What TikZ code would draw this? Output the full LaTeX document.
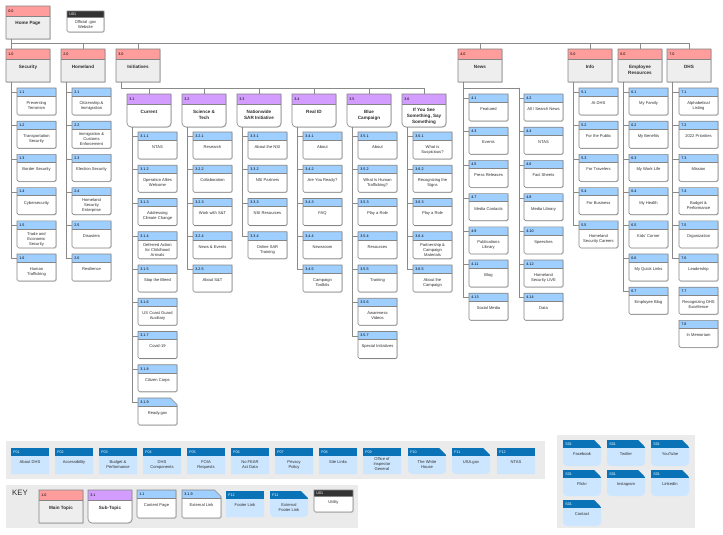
\documentclass[tikz,border=0pt]{standalone}
\usepackage{fontspec}
\setmainfont{Liberation Sans}
\usetikzlibrary{calc}
\definecolor{hred}{HTML}{FF9C9C}
\definecolor{hpurple}{HTML}{D29DFF}
\definecolor{hblue}{HTML}{9ECFFF}
\definecolor{fdark}{HTML}{0A72B6}
\definecolor{flight}{HTML}{CDE6FF}
\definecolor{mgray}{HTML}{EEEEEE}
\definecolor{bandgray}{HTML}{EBEBEB}
\definecolor{bord}{HTML}{858585}
\definecolor{conncol}{HTML}{8A8A8A}
\definecolor{udark}{HTML}{333333}
\definecolor{txt}{HTML}{2E2E2E}

\newcommand\ftitle{\fontsize{4.6}{5.6}\selectfont\bfseries}
\newcommand\fcont{\fontsize{4.1}{5}\selectfont}
\newcommand\flab{\fontsize{3.7}{4.2}\selectfont}

\pgfkeys{/bx/.cd,
 w/.store in=\bxw, h/.store in=\bxh, hh/.store in=\bxhh, r/.store in=\bxr, c/.store in=\bxc,
 hc/.store in=\bxhc, bc/.store in=\bxbc, lc/.store in=\bxlc, tf/.store in=\bxtf,
 ty/.store in=\bxty, sh/.store in=\bxsh, bd/.store in=\bxbd,
 main/.style={w=44,h=33,hh=10,r=0.01,c=0,hc=hred,bc=mgray,lc=black,tf=\ftitle,ty=16.3,sh=1,bd=1},
 sub/.style={w=44,h=33,hh=10,r=4,c=0,hc=hpurple,bc=white,lc=black,tf=\ftitle,ty=16.3,sh=1,bd=1},
 cont/.style={w=39,h=27,hh=8,r=1.5,c=0,hc=hblue,bc=white,lc=black,tf=\fcont,ty=13.3,sh=1,bd=1},
 ext/.style={cont,c=6.5},
 foot/.style={w=38,h=26,hh=8,r=0.01,c=0,hc=fdark,bc=flight,lc=white,tf=\fcont,ty=12.5,sh=0,bd=0},
 extfoot/.style={foot,r=4,c=7},
 util/.style={w=37,h=21,hh=6,r=1.5,c=0,hc=udark,bc=white,lc=white,tf=\fcont,ty=9.5,sh=1,bd=1}
}

\newcommand\bxoutline[1]{(#1.north west) -- ([xshift=-\bxc pt]#1.north east) -- ([yshift=-\bxc pt]#1.north east) -- ([yshift=\bxr pt]#1.south east) arc[start angle=0,end angle=-90,radius=\bxr pt] -- ([xshift=\bxr pt]#1.south west) arc[start angle=270,end angle=180,radius=\bxr pt] -- cycle}

\newcommand\mkbox[7][]{%
  \pgfkeys{/bx/.cd,#2,#1}%
  \node[rectangle, anchor=north west, minimum width=\bxw pt, minimum height=\bxh pt, inner sep=0, outer sep=0] (#3) at (#4,#5) {};%
  \ifnum\bxsh=1 \fill[black!22, transform canvas={shift={(0.6pt,-0.7pt)}}] \bxoutline{#3};\fi
  \fill[fill=\bxbc] \bxoutline{#3};%
  \begin{scope}
    \clip \bxoutline{#3};
    \fill[fill=\bxhc] (#3.north west) rectangle ([yshift=-\bxhh pt]#3.north east);
  \end{scope}
  \ifnum\bxbd=1
    \draw[draw=bord, line width=0.5pt] ([yshift=-\bxhh pt]#3.north west) -- ([yshift=-\bxhh pt]#3.north east);
    \draw[draw=bord, line width=0.6pt] \bxoutline{#3};
  \fi
  \node[anchor=west, inner sep=0, font=\flab, text=\bxlc] (#3l) at ([xshift=2.2pt, yshift={-0.5*\bxhh pt}]#3.north west) {#6};
  \node[anchor=north, inner sep=0, font=\bxtf, text=txt, align=center] (#3t) at ([yshift=-\bxty pt]#3.north) {#7};
}

\begin{document}
\begin{tikzpicture}[x=1pt,y=-1pt, conn/.style={draw=conncol,line width=0.7pt}]
\fill[white] (0,0) rectangle (723,535);
\useasboundingbox (0,0) rectangle (723,535);

% bands
\fill[bandgray] (6,441) rectangle (545,479);
\fill[bandgray] (6,485) rectangle (358,528);
\fill[bandgray] (557,435) rectangle (695,528);

% home
\mkbox[ty=15.5]{main}{home}{6}{6}{0.0}{Home Page}
\mkbox{util}{u01}{67}{11}{U01}{Official .gov\\Website}

% topics
\mkbox{main}{t1}{6}{49}{1.0}{Security}
\mkbox{main}{t2}{61}{49}{2.0}{Homeland}
\mkbox{main}{t3}{116}{49}{3.0}{Initiatives}
\mkbox{main}{t4}{458}{49}{4.0}{News}
\mkbox{main}{t5}{568}{49}{5.0}{Info}
\mkbox{main}{t6}{618}{49}{6.0}{Employee\\Resources}
\mkbox{main}{t7}{667}{49}{7.0}{DHS}

% sub topics
\mkbox{sub}{s1}{127}{94}{3.1}{Current}
\mkbox{sub}{s2}{182}{94}{3.2}{Science \&\\Tech}
\mkbox{sub}{s3}{237}{94}{3.3}{Nationwide\\SAR Initiative}
\mkbox{sub}{s4}{292}{94}{3.4}{Real ID}
\mkbox{sub}{s5}{347}{94}{3.5}{Blue\\Campaign}
\mkbox[ty=14.3]{sub}{s6}{402}{94}{3.6}{If You See\\Something, Say\\Something}

% 1.x
\mkbox{cont}{c11}{17}{88}{1.1}{Preventing\\Terrorism}
\mkbox{cont}{c12}{17}{121.2}{1.2}{Transportation\\Security}
\mkbox{cont}{c13}{17}{154.4}{1.3}{Border Security}
\mkbox{cont}{c14}{17}{187.6}{1.4}{Cybersecurity}
\mkbox[ty=11.2]{cont}{c15}{17}{220.8}{1.5}{Trade and\\Economic\\Security}
\mkbox{cont}{c16}{17}{254}{1.6}{Human\\Trafficking}

% 2.x
\mkbox{cont}{c21}{72}{88}{2.1}{Citizenship \&\\Immigration}
\mkbox[ty=11.2]{cont}{c22}{72}{121.2}{2.2}{Immigration \&\\Customs\\Enforcement}
\mkbox{cont}{c23}{72}{154.4}{2.3}{Election Security}
\mkbox[ty=11.2]{cont}{c24}{72}{187.6}{2.4}{Homeland\\Security\\Enterprise}
\mkbox{cont}{c25}{72}{220.8}{2.5}{Disasters}
\mkbox{cont}{c26}{72}{254}{2.6}{Resilience}

% 3.1.x
\mkbox{cont}{k11}{138}{132}{3.1.1}{NTAS}
\mkbox{cont}{k12}{138}{165.25}{3.1.2}{Operation Allies\\Welcome}
\mkbox{cont}{k13}{138}{198.5}{3.1.3}{Addressing\\Climate Change}
\mkbox[ty=11.2]{cont}{k14}{138}{231.75}{3.1.4}{Deferred Action\\for Childhood\\Arrivals}
\mkbox{cont}{k15}{138}{265}{3.1.5}{Stop the Bleed}
\mkbox{cont}{k16}{138}{298.25}{3.1.6}{US Coast Guard\\Auxiliary}
\mkbox{cont}{k17}{138}{331.5}{3.1.7}{Covid-19}
\mkbox{cont}{k18}{138}{364.75}{3.1.8}{Citizen Corps}
\mkbox{ext}{k19}{138}{398}{3.1.9}{Ready.gov}

% 3.2.x
\mkbox{cont}{k21}{193}{132}{3.2.1}{Research}
\mkbox{cont}{k22}{193}{165.25}{3.2.2}{Collaboration}
\mkbox{cont}{k23}{193}{198.5}{3.2.3}{Work with S\&T}
\mkbox{cont}{k24}{193}{231.75}{3.2.4}{News \& Events}
\mkbox{cont}{k25}{193}{265}{3.2.5}{About S\&T}

% 3.3.x
\mkbox{cont}{k31}{248}{132}{3.3.1}{About the NSI}
\mkbox{cont}{k32}{248}{165.25}{3.3.2}{NSI Partners}
\mkbox{cont}{k33}{248}{198.5}{3.3.3}{NSI Resources}
\mkbox{cont}{k34}{248}{231.75}{3.3.4}{Online SAR\\Training}

% 3.4.x
\mkbox{cont}{k41}{303}{132}{3.4.1}{About}
\mkbox{cont}{k42}{303}{165.25}{3.4.2}{Are You Ready?}
\mkbox{cont}{k43}{303}{198.5}{3.4.3}{FAQ}
\mkbox{cont}{k44}{303}{231.75}{3.4.4}{Newsroom}
\mkbox{cont}{k45}{303}{265}{3.4.5}{Campaign\\Toolkits}

% 3.5.x
\mkbox{cont}{k51}{358}{132}{3.5.1}{About}
\mkbox{cont}{k52}{358}{165.25}{3.5.2}{What Is Human\\Trafficking?}
\mkbox{cont}{k53}{358}{198.5}{3.5.3}{Play a Role}
\mkbox{cont}{k54}{358}{231.75}{3.5.4}{Resources}
\mkbox{cont}{k55}{358}{265}{3.5.5}{Training}
\mkbox{cont}{k56}{358}{298.25}{3.5.6}{Awareness\\Videos}
\mkbox{cont}{k57}{358}{331.5}{3.5.7}{Special Initiatives}

% 3.6.x
\mkbox{cont}{k61}{413}{132}{3.6.1}{What is\\Suspicious?}
\mkbox{cont}{k62}{413}{165.25}{3.6.2}{Recognizing the\\Signs}
\mkbox{cont}{k63}{413}{198.5}{3.6.3}{Play a Role}
\mkbox[ty=11.2]{cont}{k64}{413}{231.75}{3.6.4}{Partnership \&\\Campaign\\Materials}
\mkbox{cont}{k65}{413}{265}{3.6.5}{About the\\Campaign}

% 4.x
\mkbox{cont}{n1}{469}{94}{4.1}{Featured}
\mkbox{cont}{n3}{469}{127.2}{4.3}{Events}
\mkbox{cont}{n5}{469}{160.4}{4.5}{Press Releases}
\mkbox{cont}{n7}{469}{193.6}{4.7}{Media Contacts}
\mkbox{cont}{n9}{469}{226.8}{4.9}{Publications\\Library}
\mkbox{cont}{n11}{469}{260}{4.11}{Blog}
\mkbox{cont}{n13}{469}{293.2}{4.13}{Social Media}
\mkbox{cont}{n2}{524}{94}{4.2}{All / Search News}
\mkbox{cont}{n4}{524}{127.2}{4.4}{NTAS}
\mkbox{cont}{n6}{524}{160.4}{4.6}{Fact Sheets}
\mkbox{cont}{n8}{524}{193.6}{4.8}{Media Library}
\mkbox{cont}{n10}{524}{226.8}{4.10}{Speeches}
\mkbox{cont}{n12}{524}{260}{4.12}{Homeland\\Security LIVE}
\mkbox{cont}{n14}{524}{293.2}{4.14}{Data}

% 5.x
\mkbox{cont}{c51}{579}{88}{5.1}{At DHS}
\mkbox{cont}{c52}{579}{121.2}{5.2}{For the Public}
\mkbox{cont}{c53}{579}{154.4}{5.3}{For Travelers}
\mkbox{cont}{c54}{579}{187.6}{5.4}{For Business}
\mkbox{cont}{c55}{579}{220.8}{5.5}{Homeland\\Security Careers}

% 6.x
\mkbox{cont}{c61}{629}{88}{6.1}{My Family}
\mkbox{cont}{c62}{629}{121.2}{6.2}{My Benefits}
\mkbox{cont}{c63}{629}{154.4}{6.3}{My Work Life}
\mkbox{cont}{c64}{629}{187.6}{6.4}{My Health}
\mkbox{cont}{c65}{629}{220.8}{6.5}{Kids' Corner}
\mkbox{cont}{c66}{629}{254}{6.6}{My Quick Links}
\mkbox{cont}{c67}{629}{287.2}{6.7}{Employee Blog}

% 7.x
\mkbox{cont}{c71}{679}{88}{7.1}{Alphabetical\\Listing}
\mkbox{cont}{c72}{679}{121.2}{7.2}{2022 Priorities}
\mkbox{cont}{c73}{679}{154.4}{7.3}{Mission}
\mkbox{cont}{c74}{679}{187.6}{7.4}{Budget \&\\Performance}
\mkbox{cont}{c75}{679}{220.8}{7.5}{Organization}
\mkbox{cont}{c76}{679}{254}{7.6}{Leadership}
\mkbox{cont}{c77}{679}{287.2}{7.7}{Recognizing DHS\\Excellence}
\mkbox{cont}{c78}{679}{320.4}{7.8}{In Memoriam}

% footer links
\mkbox{foot}{f1}{11}{448}{F01}{About DHS}
\mkbox{foot}{f2}{55}{448}{F02}{Accessibility}
\mkbox{foot}{f3}{99}{448}{F03}{Budget \&\\Performance}
\mkbox{foot}{f4}{143}{448}{F04}{DHS\\Components}
\mkbox{foot}{f5}{187}{448}{F05}{FOIA\\Requests}
\mkbox{foot}{f6}{231}{448}{F06}{No FEAR\\Act Data}
\mkbox{foot}{f7}{275}{448}{F07}{Privacy\\Policy}
\mkbox{foot}{f8}{319}{448}{F08}{Site Links}
\mkbox[ty=9.5]{foot}{f9}{363}{448}{F09}{Office of\\Inspector\\General}
\mkbox{extfoot}{f10}{408}{448}{F10}{The White\\House}
\mkbox{extfoot}{f11}{452}{448}{F11}{USA.gov}
\mkbox{foot}{f12}{497}{448}{F12}{NTAS}

% social
\mkbox{extfoot}{sa}{563}{440}{S01}{Facebook}
\mkbox{extfoot}{sb}{607}{440}{S01}{Twitter}
\mkbox{extfoot}{sc}{651}{440}{S01}{YouTube}
\mkbox{extfoot}{sd}{563}{470}{S01}{Flickr}
\mkbox{extfoot}{se}{607}{470}{S01}{Instagram}
\mkbox{extfoot}{sf}{651}{470}{S01}{LinkedIn}
\mkbox{extfoot}{sg}{563}{500}{S01}{Contact}

% key
\node[anchor=north west, inner sep=0, font=\fontsize{7.8}{9}\selectfont, text=txt] (keytitle) at (12,489.5) {KEY};
\mkbox{main}{km}{39}{490}{1.0}{Main Topic}
\mkbox{sub}{ks}{88}{490}{3.1}{Sub-Topic}
\mkbox[h=28]{cont}{kc}{137}{490}{1.1}{Content Page}
\mkbox[h=28]{ext}{ke}{182}{490}{3.1.9}{External Link}
\mkbox{foot}{kf}{226}{491}{F12}{Footer Link}
\mkbox{extfoot}{kef}{270}{491}{F11}{External\\Footer Link}
\mkbox[w=39,h=22,hh=6.5,ty=10.5]{util}{ku}{314}{490}{U01}{Utility}

% connectors: home -> topics
\draw[conn] ([xshift=5pt]home.south west) -- ([xshift=5pt]t1.north west);
\draw[conn] ([xshift=5pt]home.south west) |- ([yshift=6pt]t7.north) -- (t7.north);
\foreach \t in {t2,t3,t4,t5,t6}
  \draw[conn] (\t.north) -- ([yshift=6pt]\t.north);

% initiatives -> sub topics
\draw[conn] ([xshift=5pt]t3.south west) |- ([yshift=6pt]s6.north) -- (s6.north);
\foreach \s in {s1,s2,s3,s4,s5}
  \draw[conn] (\s.north) -- ([yshift=6pt]\s.north);

% parent -> content pages
\foreach \p/\cs in {t1/{c11,c12,c13,c14,c15,c16}, t2/{c21,c22,c23,c24,c25,c26},
  s1/{k11,k12,k13,k14,k15,k16,k17,k18,k19}, s2/{k21,k22,k23,k24,k25},
  s3/{k31,k32,k33,k34}, s4/{k41,k42,k43,k44,k45}, s5/{k51,k52,k53,k54,k55,k56,k57},
  s6/{k61,k62,k63,k64,k65}, t4/{n1,n3,n5,n7,n9,n11,n13},
  t5/{c51,c52,c53,c54,c55}, t6/{c61,c62,c63,c64,c65,c66,c67}, t7/{c71,c72,c73,c74,c75,c76}}
  \foreach \c in \cs
    \draw[conn] ([xshift=5pt]\p.south west) |- ([yshift=-4.5pt]\c.north west);

% news right column
\coordinate (nr) at (519,88);
\draw[conn] ([xshift=5pt]t4.south west) |- (nr);
\foreach \c in {n2,n4,n6,n8,n10,n12,n14}
  \draw[conn] (nr) |- ([yshift=-4.5pt]\c.north west);
\end{tikzpicture}
\end{document}
